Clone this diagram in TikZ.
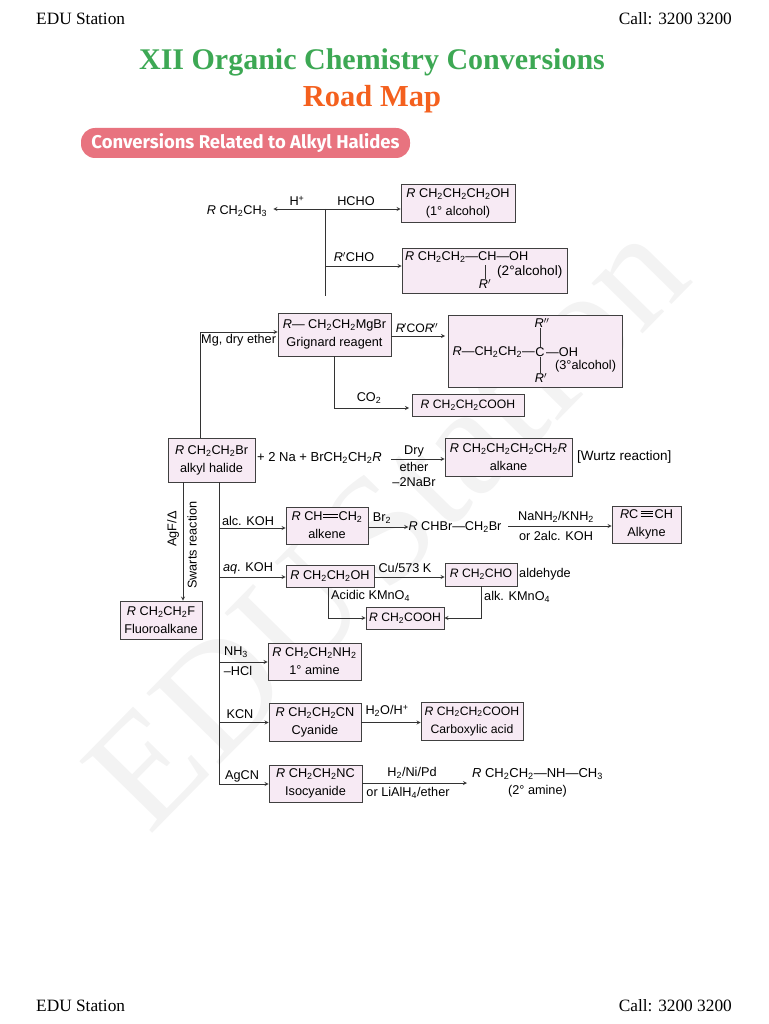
\documentclass[tikz,border=0pt]{standalone}
\usepackage{fontspec}
\setmainfont{Liberation Sans}
\newfontfamily\headfont{Liberation Serif}
\newfontfamily\bannerfont{Fira Sans}
\definecolor{boxpink}{HTML}{F7EAF4}
\definecolor{bannerred}{HTML}{E8737F}
\definecolor{titlegreen}{HTML}{3DA854}
\definecolor{titleorange}{HTML}{F4601E}
\definecolor{markgray}{HTML}{F3F3F3}
\newcommand{\low}[1]{\textsubscript{#1}}
\newcommand{\Rr}{\textit{R}}
\newcommand{\dbond}{\hspace{0.5pt}\rlap{\rule[3pt]{15pt}{0.6pt}}\rule[6pt]{15pt}{0.6pt}\hspace{0.5pt}}
\newcommand{\tbond}{\,\rlap{\rule[2pt]{12pt}{0.7pt}}\rlap{\rule[4.5pt]{12pt}{0.7pt}}\rule[7pt]{12pt}{0.7pt}\,}
\tikzset{
    chem/.style={font=\fontsize{12.7}{18}\selectfont, align=center, inner sep=0pt},
    box/.style={chem, draw=black!75, line width=0.8pt, fill=boxpink},
    tight/.style={font=\fontsize{12.2}{18}\selectfont},
    reagent/.style={chem, font=\fontsize{12.7}{15}\selectfont},
    link/.style={line width=0.8pt, black!80},
    arrow/.style={link, ->, >=stealth},
    pagetext/.style={font=\headfont\fontsize{17.3}{17.3}\selectfont, inner sep=0pt}
}
\begin{document}
\begin{tikzpicture}[x=1pt, y=-1pt]
    \useasboundingbox (0,0) rectangle (768,1024);

    % Watermark
    \node[font=\headfont\fontsize{156}{156}\selectfont, text=markgray, rotate=45.5, inner sep=0pt] (mark) at (386,523) {EDU\hspace{-0.15em} Station};

    % Page header and footer
    \node[pagetext, anchor=west] (headl) at (36,18.5) {EDU Station};
    \node[pagetext, anchor=east] (headr) at (732,18.5) {Call: 3200 3200};
    \node[pagetext, anchor=west] (footl) at (36,1006) {EDU Station};
    \node[pagetext, anchor=east] (footr) at (732,1006) {Call: 3200 3200};
    \node[font=\headfont\bfseries\fontsize{30}{30}\selectfont, text=titlegreen, inner sep=0pt] (title) at (372,62) {XII Organic Chemistry Conversions};
    \node[font=\headfont\bfseries\fontsize{30.5}{30.5}\selectfont, text=titleorange, inner sep=0pt] (subtitle) at (372,99) {Road Map};

    % Banner
    \node[fill=bannerred, rounded corners=14pt, minimum width=329pt, minimum height=30pt, text=white, inner sep=0pt, font=\bannerfont\bfseries\fontsize{18.5}{18.5}\selectfont] (banner) at (245.5,143) {Conversions Related to Alkyl Halides};

    % Top products
    \node[chem] (ethane) at (237,211) {\Rr\ CH\low{2}CH\low{3}};
    \node[box, minimum width=114pt, minimum height=38pt] (primary) at (458,203) {\Rr\ CH\low{2}CH\low{2}CH\low{2}OH\\(1° alcohol)};
    \node[box, minimum width=165pt, minimum height=45pt] (secondary) at (484.5,270.5) {};
    \node[chem, anchor=west] (secondarya) at (405,257) {\Rr\ CH\low{2}CH\low{2}---CH---OH};
    \node[chem, anchor=west, font=\fontsize{13.6}{18}\selectfont] (secondaryb) at (497,272) {(2°alcohol)};
    \node[chem] (secondaryr) at (485,284) {\Rr$'$};
    \coordinate (hub) at (325,209);
    \coordinate (hubend) at (325,296);
    \coordinate (hubb) at (325,266);
    \coordinate (secbond) at (485,265);
    \draw[arrow] (hub) -- ([xshift=6pt]ethane.east |- hub);
    \draw[arrow] (hub) -- (primary.west |- hub);
    \draw[link] (hub) -- (hubend);
    \draw[arrow] (hubb) -- (secondary.west |- hubb);
    \draw[link] (secbond) -- (secondaryr.north);
    \node[reagent] (proton) at (297,201) {H\textsuperscript{+}};
    \node[reagent] (hcho) at (356,201) {HCHO};
    \node[reagent] (rcho) at (354,257) {\Rr$'$CHO};

    % Grignard
    \node[box, minimum width=113pt, minimum height=43pt] (grignard) at (334.5,334.5) {\Rr--- CH\low{2}CH\low{2}MgBr\\Grignard reagent};
    \node[box, minimum width=174pt, minimum height=72pt] (tertiary) at (535,351) {};
    \node[chem] (tertc) at (540,352) {C};
    \node[chem, anchor=east] (tertl) at (535,352) {\Rr---CH\low{2}CH\low{2}---};
    \node[chem, anchor=west] (tertoh) at (546,352) {---OH};
    \node[chem] (terttop) at (542,323) {\Rr$''$};
    \node[chem] (tertbot) at (541,378) {\Rr$'$};
    \node[reagent, anchor=west] (tertname) at (555,366) {(3°alcohol)};
    \draw[link] (tertc |- terttop.south) -- (tertc.north);
    \draw[link] (tertc.south) -- (tertc |- tertbot.north);
    \node[box, tight, minimum width=112pt, minimum height=22pt] (acid) at (468,405) {\Rr\ CH\low{2}CH\low{2}COOH};
    \coordinate (tertstart) at (391,336);
    \coordinate (tertend) at (445,336);
    \draw[arrow] (tertstart) -- (tertend);
    \coordinate (acidturn) at (334,408);
    \coordinate (acidend) at (409,408);
    \draw[arrow] (grignard.south -| acidturn) -- (acidturn) -- (acidend);
    \node[reagent, tight] (rcor) at (417,328) {\Rr\hspace{-1pt}$'$CO\Rr\hspace{-1pt}$''$};
    \node[reagent] (co) at (369,398) {CO\low{2}};
    \node[reagent, anchor=west] (mg) at (201,340) {Mg, dry ether};

    % Alkyl halide and Wurtz
    \node[box, minimum width=87pt, minimum height=44pt] (halide) at (211.5,460) {\Rr\ CH\low{2}CH\low{2}Br\\alkyl halide};
    \coordinate (mgturn) at (200,332);
    \draw[arrow] (halide.north -| mgturn) -- (mgturn) -- (grignard.west |- mgturn);
    \node[chem, anchor=west, font=\fontsize{13}{18}\selectfont] (sodium) at (257,458) {+ 2 Na + BrCH\low{2}CH\low{2}\Rr};
    \node[box, minimum width=127pt, minimum height=38pt] (alkane) at (508.5,457) {\Rr\ CH\low{2}CH\low{2}CH\low{2}CH\low{2}\Rr\\alkane};
    \coordinate (wurtzstart) at (391,459);
    \draw[arrow] (wurtzstart) -- (alkane.west |- wurtzstart);
    \node[reagent] (dry) at (414,451) {Dry};
    \node[reagent] (ether) at (414,467) {ether};
    \node[reagent] (nabr) at (414,482) {--2NaBr};
    \node[reagent, anchor=west, font=\fontsize{13.5}{15}\selectfont] (wurtz) at (577,457) {[Wurtz reaction]};

    % Swarts
    \node[box, minimum width=82pt, minimum height=38pt] (fluoro) at (161,620) {\Rr\ CH\low{2}CH\low{2}F\\Fluoroalkane};
    \coordinate (swartsturn) at (183,482);
    \draw[arrow] (swartsturn) -- (swartsturn |- fluoro.north);
    \node[reagent, rotate=90] (agf) at (173,529) {AgF/Δ};
    \node[reagent, rotate=90] (swarts) at (192,545) {Swarts reaction};

    % Main line
    \coordinate (mainline) at (219,482);
    \coordinate (mainend) at (219,784);
    \draw[link] (mainline) -- (mainend);

    % Alkene row
    \coordinate (kohalc) at (219,528);
    \node[box, minimum width=82pt, minimum height=37pt] (alkene) at (327,525.5) {\Rr\ CH\dbond CH\low{2}\\alkene};
    \draw[arrow] (kohalc) -- (alkene.west |- kohalc);
    \node[reagent] (alckoh) at (248,521) {alc. KOH};
    \node[chem] (dibromo) at (455,527) {\Rr\ CHBr---CH\low{2}Br};
    \draw[arrow] (alkene.east |- dibromo) -- (dibromo.west);
    \node[reagent] (bromine) at (382,518) {Br\low{2}};
    \node[box, minimum width=69pt, minimum height=37pt] (alkyne) at (646.5,524.5) {\Rr C\tbond CH\\Alkyne};
    \coordinate (alkynestart) at (508,526);
    \draw[arrow] (alkynestart) -- (alkyne.west |- alkynestart);
    \node[reagent] (amide) at (556,517) {NaNH\low{2}/KNH\low{2}};
    \node[reagent] (twokoh) at (556,536) {or 2alc. KOH};

    % Alcohol row
    \node[box, minimum width=88pt, minimum height=22pt] (alcohol) at (330,576) {\Rr\ CH\low{2}CH\low{2}OH};
    \node[box, tight, minimum width=72pt, minimum height=23pt] (aldehyde) at (481,574.5) {\Rr\ CH\low{2}CHO};
    \node[box, tight, minimum width=78pt, minimum height=22pt] (carbox) at (405,618) {\Rr\ CH\low{2}COOH};
    \coordinate (kohaq) at (219,577);
    \draw[arrow] (kohaq) -- (alcohol.west |- kohaq);
    \draw[arrow] (alcohol.east |- kohaq) -- (aldehyde.west |- kohaq);
    \coordinate (acidicturn) at (328,618);
    \coordinate (alkturn) at (481,618);
    \draw[arrow] (alcohol.south -| acidicturn) -- (acidicturn) -- (carbox.west);
    \draw[arrow] (aldehyde.south -| alkturn) -- (alkturn) -- (carbox.east);
    \node[reagent] (aqkoh) at (248,568) {\textit{aq}. KOH};
    \node[reagent] (cu) at (405,568) {Cu/573 K};
    \node[reagent, anchor=west] (aldname) at (519,574) {aldehyde};
    \node[reagent, anchor=west] (acidickmn) at (331,596) {Acidic KMnO\low{4}};
    \node[reagent, anchor=west] (alkkmn) at (484,597) {alk. KMnO\low{4}};

    % Amine row
    \node[box, minimum width=93pt, minimum height=37pt] (amine) at (314.5,661.5) {\Rr\ CH\low{2}CH\low{2}NH\low{2}\\1° amine};
    \coordinate (ammonia) at (219,662);
    \draw[arrow] (ammonia) -- (amine.west |- ammonia);
    \node[reagent] (nh) at (236,652) {NH\low{3}};
    \node[reagent] (hcl) at (238,671) {--HCl};

    % Cyanide row
    \node[box, minimum width=92pt, minimum height=38pt] (cyanide) at (315,722) {\Rr\ CH\low{2}CH\low{2}CN\\Cyanide};
    \node[box, tight, minimum width=102pt, minimum height=38pt] (carboxylic) at (472,721) {\Rr\ CH\low{2}CH\low{2}COOH\\Carboxylic acid};
    \coordinate (kcnstart) at (219,722.5);
    \draw[arrow] (kcnstart) -- (cyanide.west |- kcnstart);
    \draw[arrow] (cyanide.east |- kcnstart) -- (carboxylic.west |- kcnstart);
    \node[reagent] (kcn) at (240,714) {KCN};
    \node[reagent] (water) at (387,711) {H\low{2}O/H\textsuperscript{+}};

    % Isocyanide row
    \node[box, minimum width=93pt, minimum height=37pt] (isocyanide) at (315.5,783.5) {\Rr\ CH\low{2}CH\low{2}NC\\Isocyanide};
    \node[chem, font=\fontsize{13}{18}\selectfont] (secamine) at (537.5,774) {\Rr\ CH\low{2}CH\low{2}---NH---CH\low{3}};
    \node[chem] (secname) at (537.5,791) {(2° amine)};
    \coordinate (agcnstart) at (219,784);
    \coordinate (reduced) at (467,783);
    \draw[arrow] (agcnstart) -- (isocyanide.west |- agcnstart);
    \draw[arrow] (isocyanide.east |- reduced) -- (reduced);
    \node[reagent] (agcn) at (242,776) {AgCN};
    \node[reagent] (nickel) at (412,773) {H\low{2}/Ni/Pd};
    \node[reagent] (lithal) at (408,793) {or LiAlH\low{4}/ether};
\end{tikzpicture}
\end{document}
